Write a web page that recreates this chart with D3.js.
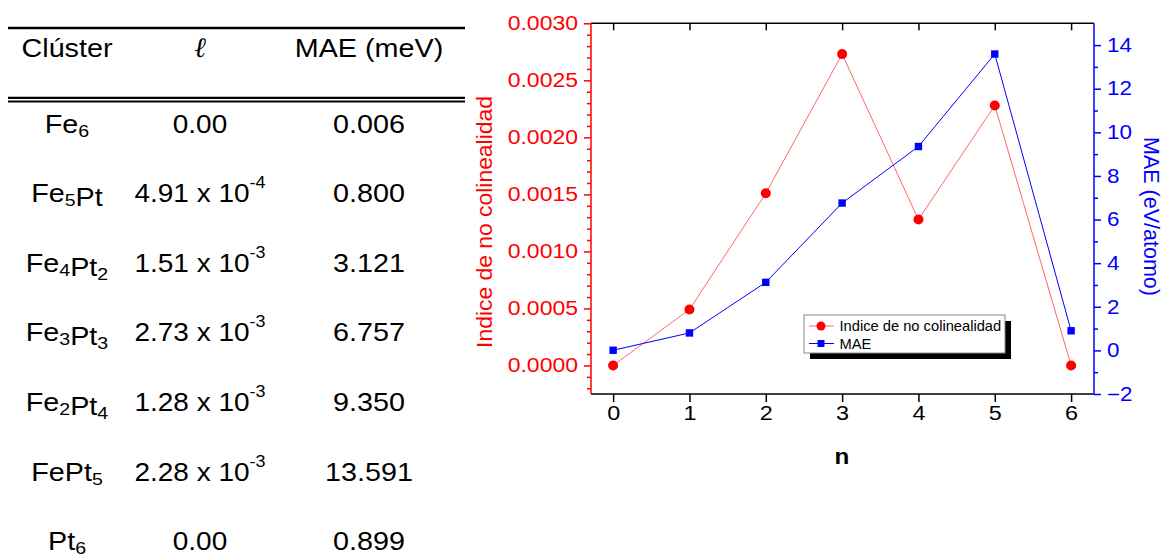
<!DOCTYPE html>
<html>
<head>
<meta charset="utf-8">
<script src="https://cdn.jsdelivr.net/npm/d3@7"></script>
<style>
  body { margin: 0; background: #fff; }
  svg { display: block; font-family: "Liberation Sans", Arial, sans-serif; }
</style>
</head>
<body>
<svg id="chart" width="1164" height="560"></svg>
<script>
// data
const nValues = [0, 1, 2, 3, 4, 5, 6];
const clusters = ['Fe_6', 'Fe_5Pt', 'Fe_4Pt_2', 'Fe_3Pt_3', 'Fe_2Pt_4', 'FePt_5', 'Pt_6'];
const nonColin = [0, 4.91e-4, 1.51e-3, 2.73e-3, 1.28e-3, 2.28e-3, 0];
const maeValues = [0.006, 0.800, 3.121, 6.757, 9.350, 13.591, 0.899];
const leftTicks = [0, 0.0005, 0.001, 0.0015, 0.002, 0.0025, 0.003];
const rightTicks = [-2, 0, 2, 4, 6, 8, 10, 12, 14];
const tableHeaders = ['Clúster', 'ℓ', 'MAE (meV)'];

const RED = '#ff0000', BLUE = '#0000ff';
const svg = d3.select('#chart');

// text helper with a small horizontal stretch (the source image is a bit wide)
function stretchText(g, x, y, sx, anchor) {
  return g.append('text')
    .attr('transform', `translate(${x},${y}) scale(${sx},1)`)
    .attr('text-anchor', anchor || 'middle');
}

// ---------- table ----------
const table = svg.append('g');
const colX = [67, 200, 369];
const rowY = d => 132.5 + d * 69.6;

table.append('line').attr('x1', 8).attr('x2', 465).attr('y1', 28).attr('y2', 28)
  .attr('stroke', '#000').attr('stroke-width', 2.6);
[97.8, 101.5].forEach(y => table.append('line').attr('x1', 8).attr('x2', 465)
  .attr('y1', y).attr('y2', y).attr('stroke', '#000').attr('stroke-width', 2.2));

stretchText(table, colX[0], 56.5, 1.15).attr('font-size', 25).text(tableHeaders[0]);
stretchText(table, colX[1], 56.5, 1).attr('font-size', 28)
  .attr('font-family', '"Liberation Serif", "DejaVu Serif", serif')
  .attr('font-style', 'italic').text(tableHeaders[1]);
stretchText(table, colX[2], 56.5, 1.15).attr('font-size', 25).text(tableHeaders[2]);

clusters.forEach((name, i) => {
  const t = stretchText(table, colX[0], rowY(i), 1.15).attr('font-size', 25);
  const parts = [...name.matchAll(/([A-Za-z]+)_?(\d*)/g)];
  parts.forEach(p => {
    t.append('tspan').text(p[1]);
    if (p[2]) {
      t.append('tspan').attr('font-size', 17).attr('dy', 4).text(p[2]);
      t.append('tspan').attr('dy', -4).text('');
    }
  });

  const v = nonColin[i];
  const e = stretchText(table, colX[1], rowY(i), 1.12).attr('font-size', 25);
  if (v === 0) {
    e.text('0.00');
  } else {
    const exp = Math.floor(Math.log10(v));
    e.append('tspan').text((v / Math.pow(10, exp)).toFixed(2) + ' x 10');
    e.append('tspan').attr('font-size', 16).attr('dy', -14).text(String(exp));
  }

  stretchText(table, colX[2], rowY(i), 1.15).attr('font-size', 25).text(maeValues[i].toFixed(3));
});

// ---------- chart ----------
const pLeft = 591, pRight = 1094, pTop = 23.3, pBottom = 394;
const x = d3.scaleLinear().domain([-0.29, 6.3]).range([pLeft, pRight]);
const yL = d3.scaleLinear().domain([-0.00025, 0.003]).range([pBottom, pTop]);
const yR = d3.scaleLinear().domain([-2, 15]).range([pBottom, pTop]);

const leftMinor = d3.range(-2, 31).map(k => k * 0.0001).filter((v, k) => (k - 2) % 5 !== 0);
const rightMinor = d3.range(-1, 15, 2);

function styleAxis(g, color) {
  g.select('.domain').remove();
  g.selectAll('line').attr('stroke', color).attr('stroke-width', 1.5);
  g.selectAll('text').attr('fill', color).attr('font-size', 19.5)
    .attr('font-family', '"Liberation Sans", Arial, sans-serif');
}

// bottom axis
const gx = svg.append('g').attr('transform', `translate(0,${pBottom})`)
  .call(d3.axisBottom(x).tickValues(nValues).tickFormat(d3.format('d')).tickSize(8).tickPadding(4));
styleAxis(gx, '#000');
gx.selectAll('text').attr('y', null).attr('transform', 'translate(0,12) scale(1.2,1)');

// top axis ticks (inward)
const gt = svg.append('g').attr('transform', `translate(0,${pTop})`)
  .call(d3.axisBottom(x).tickValues(nValues).tickFormat('').tickSize(7));
styleAxis(gt, '#000');

// left axis
const gl = svg.append('g').attr('transform', `translate(${pLeft},0)`)
  .call(d3.axisLeft(yL).tickValues(leftTicks).tickFormat(d3.format('.4f')).tickSize(7).tickPadding(6));
styleAxis(gl, RED);
gl.selectAll('text').attr('x', null).attr('transform', 'translate(-13,0) scale(1.18,1)');
const glm = svg.append('g').attr('transform', `translate(${pLeft},0)`)
  .call(d3.axisLeft(yL).tickValues(leftMinor).tickFormat('').tickSize(4));
styleAxis(glm, RED);

// right axis
const gr = svg.append('g').attr('transform', `translate(${pRight},0)`)
  .call(d3.axisRight(yR).tickValues(rightTicks).tickFormat(d3.format('d')).tickSize(7).tickPadding(6));
styleAxis(gr, BLUE);
gr.selectAll('text').attr('x', null).attr('transform', 'translate(13,0) scale(1.15,1)');
const grm = svg.append('g').attr('transform', `translate(${pRight},0)`)
  .call(d3.axisRight(yR).tickValues(rightMinor).tickFormat('').tickSize(4));
styleAxis(grm, BLUE);

// frame
svg.append('line').attr('x1', pLeft).attr('x2', pRight).attr('y1', pTop).attr('y2', pTop)
  .attr('stroke', '#000').attr('stroke-width', 1.5);
svg.append('line').attr('x1', pLeft).attr('x2', pRight).attr('y1', pBottom).attr('y2', pBottom)
  .attr('stroke', '#000').attr('stroke-width', 1.5);
svg.append('line').attr('x1', pLeft).attr('x2', pLeft).attr('y1', pTop).attr('y2', pBottom)
  .attr('stroke', RED).attr('stroke-width', 1.5);
svg.append('line').attr('x1', pRight).attr('x2', pRight).attr('y1', pTop).attr('y2', pBottom)
  .attr('stroke', BLUE).attr('stroke-width', 1.5);

// axis titles
svg.append('text').attr('transform', 'translate(491.5,222) rotate(-90) scale(1.04,1)')
  .attr('text-anchor', 'middle').attr('font-size', 22).attr('fill', RED)
  .text('Indice de no colinealidad');
svg.append('text').attr('transform', 'translate(1144,216.5) rotate(90)')
  .attr('text-anchor', 'middle').attr('font-size', 21.5).attr('fill', BLUE)
  .text('MAE (eV/atomo)');
stretchText(svg, 842, 464, 1.1).attr('font-size', 22).attr('font-weight', 'bold').text('n');

// series
const redLine = d3.line().x((d, i) => x(nValues[i])).y(d => yL(d));
const blueLine = d3.line().x((d, i) => x(nValues[i])).y(d => yR(d));

svg.append('path').datum(nonColin).attr('d', redLine)
  .attr('fill', 'none').attr('stroke', '#ff4040').attr('stroke-width', 0.8);
svg.append('path').datum(maeValues).attr('d', blueLine)
  .attr('fill', 'none').attr('stroke', BLUE).attr('stroke-width', 1);

svg.append('g').selectAll('circle').data(nonColin).join('circle')
  .attr('cx', (d, i) => x(nValues[i])).attr('cy', d => yL(d)).attr('r', 5)
  .attr('fill', RED);
svg.append('g').selectAll('rect').data(maeValues).join('rect')
  .attr('x', (d, i) => x(nValues[i]) - 3.7).attr('y', d => yR(d) - 3.7)
  .attr('width', 7.4).attr('height', 7.4).attr('fill', BLUE);

// legend
const lg = svg.append('g');
lg.append('rect').attr('x', 810).attr('y', 321).attr('width', 201).attr('height', 38).attr('fill', '#000');
lg.append('rect').attr('x', 804).attr('y', 315).attr('width', 201).attr('height', 38)
  .attr('fill', '#fff').attr('stroke', '#888').attr('stroke-width', 1);
lg.append('line').attr('x1', 809).attr('x2', 834).attr('y1', 326).attr('y2', 326)
  .attr('stroke', '#ff4040').attr('stroke-width', 0.8);
lg.append('circle').attr('cx', 821).attr('cy', 326).attr('r', 4.5).attr('fill', RED);
lg.append('line').attr('x1', 809).attr('x2', 834).attr('y1', 343.5).attr('y2', 343.5)
  .attr('stroke', BLUE).attr('stroke-width', 1);
lg.append('rect').attr('x', 817.5).attr('y', 340).attr('width', 7).attr('height', 7).attr('fill', BLUE);
stretchText(lg, 839.5, 331, 1.05, 'start').attr('font-size', 14).text('Indice de no colinealidad');
stretchText(lg, 839.5, 348.5, 1.05, 'start').attr('font-size', 14).text('MAE');
</script>
</body>
</html>
